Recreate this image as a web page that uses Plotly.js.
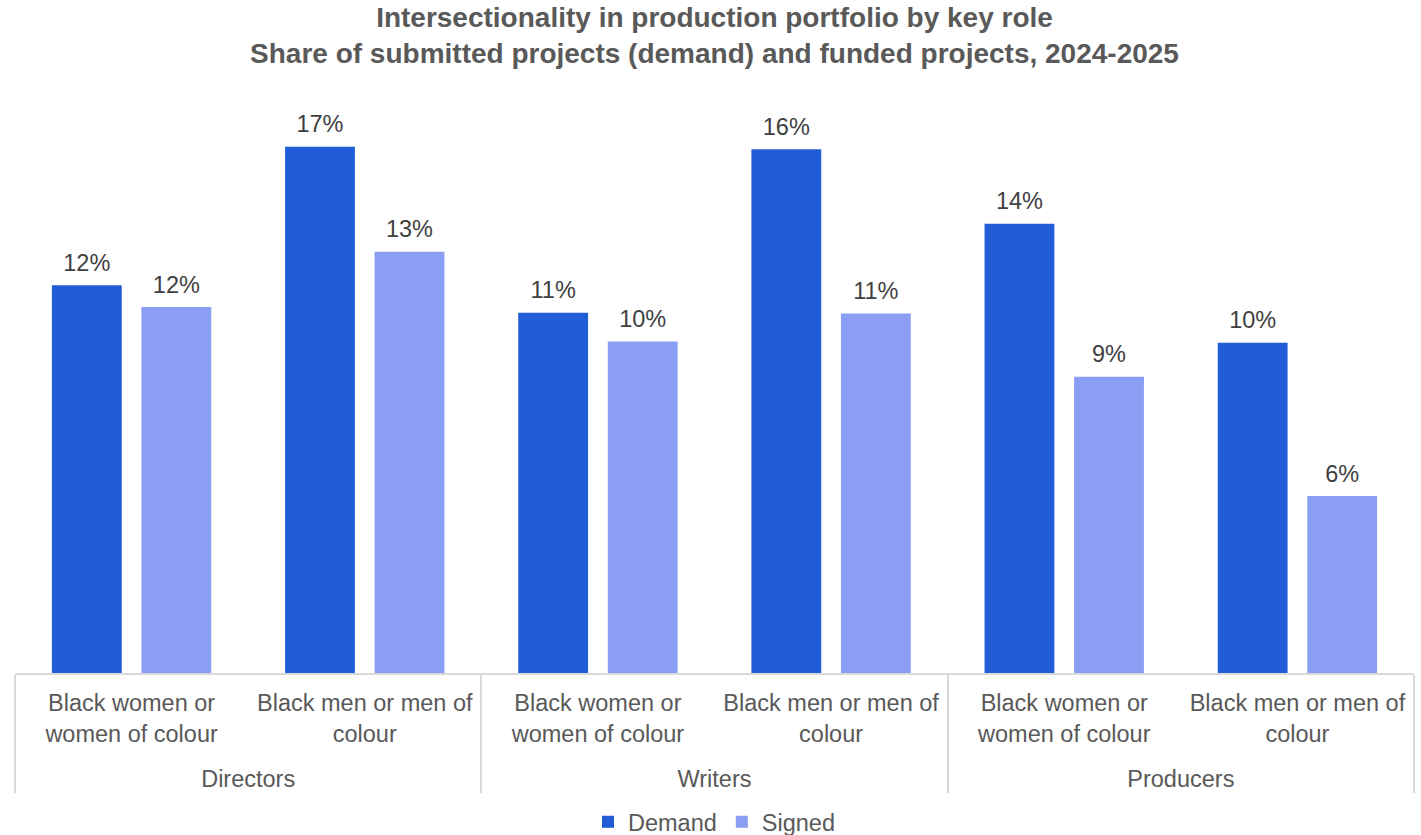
<!DOCTYPE html>
<html>
<head>
<meta charset="utf-8">
<script src="https://cdn.plot.ly/plotly-3.0.1.min.js"></script>
<style>html,body{margin:0;padding:0;background:#fff;}#chart{width:1421px;height:835px;}</style>
</head>
<body>
<div id="chart"></div>
<script>
const roles = ["Directors", "Directors", "Writers", "Writers", "Producers", "Producers"];
const pad = "<br><span style='font-size:2px'> </span>";
const groups = ["Black women or<br>women of colour" + pad, "Black men or men of<br>colour" + pad,
                "Black women or<br>women of colour" + pad, "Black men or men of<br>colour" + pad,
                "Black women or<br>women of colour" + pad, "Black men or men of<br>colour" + pad];
const demand = [0.1220, 0.1656, 0.1134, 0.1648, 0.1414, 0.1039];
const signed = [0.1152, 0.1326, 0.1043, 0.1131, 0.0932, 0.0557];

const FONT = "Liberation Sans, Arial, sans-serif";
const labelFont = {family: FONT, size: 23.5, color: "#404040"};

function barTrace(name, vals, color) {
  return {type: "bar", name: name, x: [roles, groups], y: vals,
          marker: {color: color}, hoverinfo: "skip", showlegend: true};
}
function labelTrace(name, vals) {
  return {type: "scatter", mode: "markers+text", name: name + " labels", x: [roles, groups], y: vals,
          marker: {size: 12, color: "rgba(0,0,0,0)"}, text: vals.map(v => Math.round(v * 100) + "%"),
          textposition: "top center", textfont: labelFont, cliponaxis: false,
          hoverinfo: "skip", showlegend: false};
}

const traces = [
  barTrace("Demand", demand, "#215DD6"),
  barTrace("Signed", signed, "#8A9EF3"),
  labelTrace("Demand", demand),
  labelTrace("Signed", signed)
];

const layout = {
  width: 1421, height: 835,
  margin: {l: 15, r: 7, t: 101, b: 162, autoexpand: false},
  paper_bgcolor: "#ffffff", plot_bgcolor: "#ffffff",
  font: {family: FONT, color: "#595959"},
  title: {text: "<b>Intersectionality in production portfolio by key role<br>Share of submitted projects (demand) and funded projects, 2024-2025</b>",
          x: 0.5, xanchor: "center", xref: "paper", yref: "container", y: 1 - 27 / 835, yanchor: "middle",
          font: {size: 28, color: "#595959", family: FONT}},
  barmode: "group", bargap: 0.232, bargroupgap: 0.22,
  scattermode: "group", scattergap: 0.232,
  xaxis: {type: "multicategory", showline: true, linecolor: "#D9D9D9", linewidth: 2,
          showdividers: true, dividercolor: "#D9D9D9", dividerwidth: 2, automargin: false,
          ticks: "", ticklabelstandoff: 8,
          tickfont: {size: 23.5, color: "#595959", family: FONT}, showgrid: false},
  yaxis: {range: [0, 0.18], visible: false, showgrid: false, zeroline: false},
  showlegend: true,
  legend: {orientation: "h", x: 0.5, xanchor: "center", xref: "paper", yref: "container", y: 1 - 822 / 835, yanchor: "middle",
           font: {size: 23.5, color: "#595959", family: FONT}, itemwidth: 30, traceorder: "normal"}
};

Plotly.newPlot("chart", traces, layout, {displayModeBar: false, staticPlot: true});
</script>
</body>
</html>
